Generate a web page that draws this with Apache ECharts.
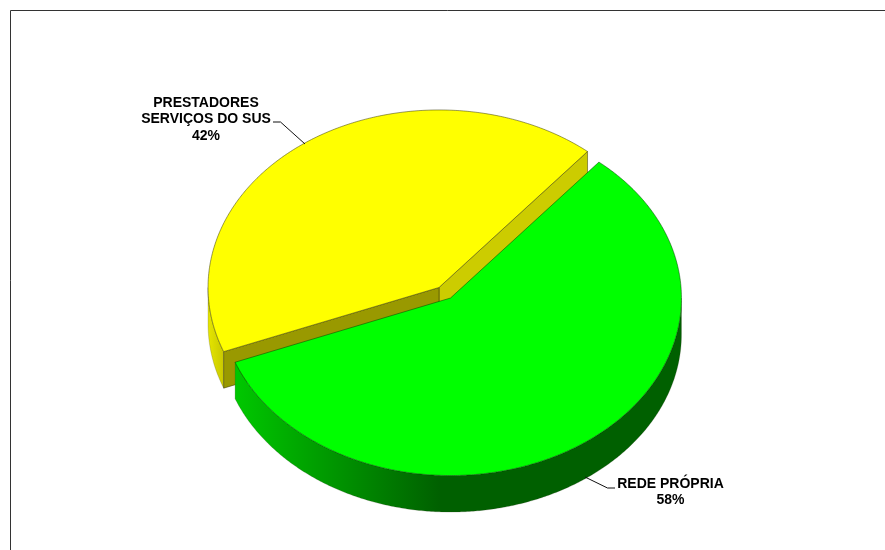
<!DOCTYPE html>
<html>
<head>
<meta charset="utf-8">
<style>html,body{margin:0;padding:0;background:#fff}#c{width:885px;height:550px}</style>
<script src="https://cdn.jsdelivr.net/npm/echarts@6/dist/echarts.min.js"></script>
</head>
<body>
<div id="c"></div>
<script>
// Data
const categories = ['PRESTADORES\nSERVIÇOS DO SUS', 'REDE PRÓPRIA'];
const values = [42, 58];

// Layout / style (kept apart from the data)
const CX = 444.75, CY = 292.75, RX = 231, RY = 177.5, DEPTH = 36.5;
const EX = 9.8, EY = 6.5, START = 50;
const styles = [
  { top: '#ffff00', edge: 'rgba(60,60,10,0.75)',
    side: [[0, '#e6e600'], [1, '#c4c400']], sideX: [208, 226],
    cutStart: '#cccc00', cutEnd: '#999900' },
  { top: '#00ff00', edge: 'rgba(0,60,0,0.7)',
    side: [[0, '#00c800'], [0.46, '#006000'], [1, '#006000']], sideX: [234, 681],
    cutStart: null, cutEnd: null }
];
const labels = [
  { x: 206, y: 119.5, line: [[273, 122], [280.5, 122], [305, 144]] },
  { x: 670.5, y: 492, line: [[585, 477], [607.5, 488], [615, 488]] }
];
const total = values.reduce((a, b) => a + b, 0);
const rad = d => d * Math.PI / 180;

function renderItem(params, api) {
  const i = params.dataIndex;
  let before = 0;
  for (let k = 0; k < i; k++) before += values[k];
  const a0 = START + before / total * 360;
  const a1 = a0 + api.value(0) / total * 360;
  const mid = rad((a0 + a1) / 2);
  const cx = CX + Math.cos(mid) * EX;
  const cy = CY - Math.sin(mid) * EY;
  const pt = (d, dz) => [cx + RX * Math.cos(rad(d)), cy - RY * Math.sin(rad(d)) + (dz || 0)];
  const st = styles[i];
  const children = [];

  // outer wall: only the part of the rim on the lower half of the ellipse
  const visible = [];
  for (let w = -360; w <= 720; w += 360) {
    const lo = Math.max(a0, 180 + w), hi = Math.min(a1, 360 + w);
    if (lo < hi) visible.push([lo, hi]);
  }
  visible.forEach(([lo, hi]) => {
    const up = [], down = [];
    for (let d = lo; d < hi; d += 0.5) { up.push(pt(d)); down.unshift(pt(d, DEPTH)); }
    up.push(pt(hi)); down.unshift(pt(hi, DEPTH));
    children.push({
      type: 'polygon',
      shape: { points: up.concat(down) },
      style: {
        fill: new echarts.graphic.LinearGradient(st.sideX[0], 0, st.sideX[1], 0,
          st.side.map(s => ({ offset: s[0], color: s[1] })), true),
        stroke: 'rgba(60,60,40,0.35)', lineWidth: 0.6
      }
    });
  });

  // cut faces
  const cut = (d, fill) => ({
    type: 'polygon',
    shape: { points: [[cx, cy], pt(d), pt(d, DEPTH), [cx, cy + DEPTH]] },
    style: { fill, stroke: st.edge, lineWidth: 0.7 }
  });
  if (st.cutStart) children.push(cut(a0, st.cutStart));
  if (st.cutEnd) children.push(cut(a1, st.cutEnd));

  // top surface
  const top = [[cx, cy]];
  for (let d = a0; d < a1; d += 0.5) top.push(pt(d));
  top.push(pt(a1));
  children.push({
    type: 'polygon',
    shape: { points: top },
    style: { fill: st.top, stroke: st.edge, lineWidth: 0.7 }
  });

  // leader line and label
  children.push({
    type: 'polyline',
    shape: { points: labels[i].line },
    style: { fill: null, stroke: '#111', lineWidth: 1 },
    z2: 5
  });
  children.push({
    type: 'text',
    style: {
      x: labels[i].x, y: labels[i].y,
      text: categories[i] + '\n' + api.value(0) + '%',
      fontFamily: '"Liberation Sans", Arial, sans-serif',
      fontWeight: 'bold', fontSize: 14, lineHeight: 16.5,
      fill: '#000', align: 'center', verticalAlign: 'middle'
    },
    z2: 6
  });
  return { type: 'group', children };
}

const chart = echarts.init(document.getElementById('c'), null, { renderer: 'canvas' });
chart.setOption({
  animation: false,
  backgroundColor: '#fff',
  graphic: [
    { type: 'line', shape: { x1: 10.5, y1: 10.5, x2: 885, y2: 10.5 }, style: { stroke: '#333', lineWidth: 1 } },
    { type: 'line', shape: { x1: 10.5, y1: 10.5, x2: 10.5, y2: 550 }, style: { stroke: '#333', lineWidth: 1 } }
  ],
  series: [{
    type: 'custom',
    coordinateSystem: 'none',
    renderItem,
    data: values.map(v => [v]),
    silent: true
  }]
});
</script>
</body>
</html>
